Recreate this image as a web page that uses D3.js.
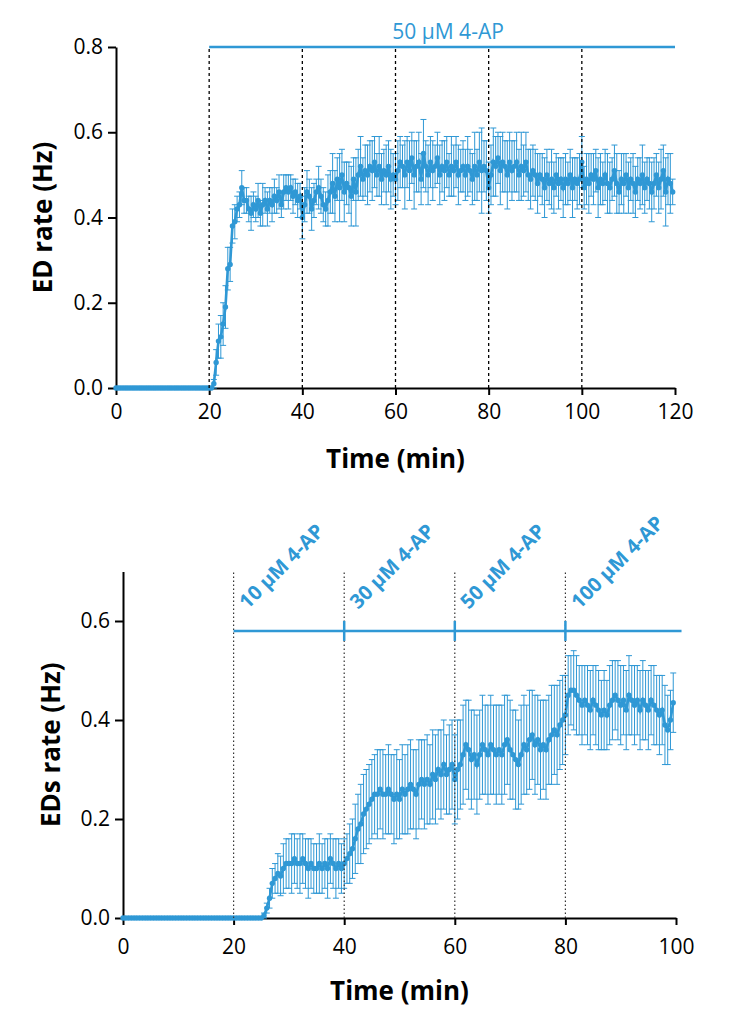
<!DOCTYPE html>
<html>
<head>
<meta charset="utf-8">
<script src="https://cdnjs.cloudflare.com/ajax/libs/d3/7.8.5/d3.min.js"></script>
<style>
  body { margin: 0; background: #fff; }
  svg { display: block; font-family: "Open Sans", sans-serif; }
  .axis path, .axis line { stroke: #000; stroke-width: 2; }
  .axis text { font-family: "Open Sans", sans-serif; font-size: 21px; fill: #000; }
  .title { font-weight: bold; font-size: 26px; }
</style>
</head>
<body>
<div id="vis"></div>
<script>
// both recordings are binned every 0.5 min
var sampleStep = 0.5;

// top panel: 50 uM 4-AP from 20 min, mean and SEM of ED rate (Hz)
var topMean = [
  0, 0, 0, 0, 0, 0, 0, 0, 0, 0,
  0, 0, 0, 0, 0, 0, 0, 0, 0, 0,
  0, 0, 0, 0, 0, 0, 0, 0, 0, 0,
  0, 0, 0, 0, 0, 0, 0, 0, 0, 0,
  0, 0, 0.01, 0.06, 0.11, 0.12, 0.15, 0.19, 0.28, 0.29,
  0.38, 0.39, 0.42, 0.43, 0.47, 0.44, 0.44, 0.42, 0.41, 0.43,
  0.42, 0.44, 0.41, 0.43, 0.44, 0.42, 0.44, 0.43, 0.45, 0.44,
  0.46, 0.43, 0.46, 0.47, 0.46, 0.47, 0.45, 0.46, 0.44, 0.45,
  0.40, 0.43, 0.46, 0.45, 0.42, 0.44, 0.46, 0.47, 0.45, 0.43,
  0.42, 0.44, 0.46, 0.48, 0.45, 0.49, 0.47, 0.50, 0.46, 0.48,
  0.47, 0.45, 0.49, 0.46, 0.50, 0.52, 0.49, 0.51, 0.50, 0.52,
  0.51, 0.53, 0.50, 0.52, 0.49, 0.51, 0.50, 0.52, 0.49, 0.50,
  0.49, 0.51, 0.53, 0.52, 0.50, 0.53, 0.51, 0.54, 0.50, 0.52,
  0.53, 0.49, 0.55, 0.52, 0.50, 0.53, 0.51, 0.52, 0.54, 0.50,
  0.52, 0.51, 0.53, 0.50, 0.52, 0.51, 0.53, 0.50, 0.51, 0.52,
  0.50, 0.52, 0.51, 0.49, 0.52, 0.50, 0.53, 0.51, 0.52, 0.51,
  0.47, 0.50, 0.53, 0.52, 0.54, 0.51, 0.53, 0.52, 0.50, 0.53,
  0.51, 0.52, 0.53, 0.50, 0.52, 0.51, 0.53, 0.50, 0.49, 0.51,
  0.50, 0.48, 0.50, 0.49, 0.47, 0.50, 0.48, 0.49, 0.47, 0.50,
  0.48, 0.49, 0.47, 0.49, 0.48, 0.50, 0.47, 0.49, 0.48, 0.49,
  0.53, 0.47, 0.49, 0.48, 0.50, 0.49, 0.51, 0.47, 0.49, 0.48,
  0.50, 0.48, 0.47, 0.49, 0.51, 0.48, 0.46, 0.49, 0.48, 0.50,
  0.47, 0.49, 0.48, 0.46, 0.49, 0.48, 0.50, 0.47, 0.49, 0.48,
  0.46, 0.48, 0.50, 0.47, 0.49, 0.51, 0.46, 0.49, 0.48, 0.46
];
var topSem = [
  0, 0, 0, 0, 0, 0, 0, 0, 0, 0,
  0, 0, 0, 0, 0, 0, 0, 0, 0, 0,
  0, 0, 0, 0, 0, 0, 0, 0, 0, 0,
  0, 0, 0, 0, 0, 0, 0, 0, 0, 0,
  0, 0, 0.01, 0.03, 0.04, 0.05, 0.05, 0.05, 0.05, 0.04,
  0.04, 0.04, 0.03, 0.03, 0.04, 0.03, 0.03, 0.03, 0.04, 0.03,
  0.03, 0.04, 0.03, 0.05, 0.03, 0.04, 0.03, 0.04, 0.04, 0.03,
  0.04, 0.03, 0.04, 0.03, 0.04, 0.03, 0.04, 0.03, 0.04, 0.03,
  0.05, 0.04, 0.05, 0.04, 0.05, 0.04, 0.03, 0.05, 0.04, 0.04,
  0.04, 0.06, 0.05, 0.07, 0.06, 0.05, 0.08, 0.06, 0.07, 0.05,
  0.06, 0.07, 0.05, 0.08, 0.06, 0.07, 0.05, 0.06, 0.07, 0.06,
  0.07, 0.06, 0.05, 0.07, 0.06, 0.05, 0.07, 0.06, 0.07, 0.05,
  0.06, 0.07, 0.06, 0.05, 0.08, 0.06, 0.07, 0.06, 0.08, 0.06,
  0.07, 0.06, 0.08, 0.06, 0.07, 0.06, 0.07, 0.05, 0.06, 0.07,
  0.06, 0.07, 0.06, 0.05, 0.07, 0.06, 0.06, 0.07, 0.05, 0.06,
  0.06, 0.07, 0.05, 0.06, 0.08, 0.06, 0.07, 0.10, 0.06, 0.07,
  0.06, 0.07, 0.08, 0.07, 0.06, 0.08, 0.07, 0.06, 0.08, 0.07,
  0.07, 0.06, 0.07, 0.06, 0.08, 0.06, 0.07, 0.06, 0.07, 0.06,
  0.06, 0.07, 0.05, 0.06, 0.07, 0.06, 0.05, 0.07, 0.06, 0.05,
  0.06, 0.05, 0.07, 0.06, 0.05, 0.06, 0.07, 0.05, 0.06, 0.06,
  0.06, 0.05, 0.06, 0.07, 0.05, 0.06, 0.05, 0.07, 0.06, 0.05,
  0.06, 0.07, 0.06, 0.05, 0.06, 0.07, 0.05, 0.06, 0.07, 0.05,
  0.06, 0.05, 0.07, 0.06, 0.05, 0.06, 0.07, 0.06, 0.05, 0.06,
  0.07, 0.06, 0.05, 0.06, 0.07, 0.06, 0.08, 0.06, 0.07, 0.03
];
var topTicksX = [0, 20, 40, 60, 80, 100, 120];
var topTicksY = [0, 0.2, 0.4, 0.6, 0.8];
var topMarks = [20, 40, 60, 80, 100];
var topDoseStarts = [20];
var topDoseLabels = ["50 μM 4-AP"];

// bottom panel: increasing 4-AP steps, mean and SEM of EDs rate (Hz)
var bottomMean = [
  0, 0, 0, 0, 0, 0, 0, 0, 0, 0,
  0, 0, 0, 0, 0, 0, 0, 0, 0, 0,
  0, 0, 0, 0, 0, 0, 0, 0, 0, 0,
  0, 0, 0, 0, 0, 0, 0, 0, 0, 0,
  0, 0, 0, 0, 0, 0, 0, 0, 0, 0,
  0, 0.005, 0.02, 0.04, 0.07, 0.08, 0.09, 0.085, 0.10, 0.11,
  0.11, 0.11, 0.12, 0.11, 0.11, 0.12, 0.11, 0.10, 0.11, 0.10,
  0.10, 0.11, 0.10, 0.11, 0.10, 0.12, 0.11, 0.10, 0.11, 0.10,
  0.11, 0.12, 0.13, 0.14, 0.16, 0.18, 0.19, 0.21, 0.22, 0.23,
  0.24, 0.25, 0.25, 0.26, 0.25, 0.25, 0.26, 0.25, 0.24, 0.25,
  0.24, 0.26, 0.25, 0.26, 0.27, 0.26, 0.25, 0.27, 0.28, 0.27,
  0.28, 0.27, 0.29, 0.28, 0.30, 0.29, 0.31, 0.29, 0.30, 0.31,
  0.28, 0.30, 0.31, 0.33, 0.35, 0.34, 0.32, 0.33, 0.31, 0.33,
  0.35, 0.34, 0.33, 0.35, 0.34, 0.33, 0.34, 0.33, 0.35, 0.36,
  0.34, 0.33, 0.32, 0.31, 0.33, 0.35, 0.34, 0.36, 0.37, 0.35,
  0.36, 0.34, 0.35, 0.34, 0.36, 0.37, 0.38, 0.37, 0.39, 0.40,
  0.41, 0.45, 0.46, 0.46, 0.45, 0.44, 0.43, 0.44, 0.43, 0.42,
  0.44, 0.43, 0.42, 0.41, 0.42, 0.41, 0.43, 0.44, 0.45, 0.44,
  0.43, 0.44, 0.42, 0.45, 0.44, 0.43, 0.44, 0.42, 0.44, 0.43,
  0.42, 0.44, 0.43, 0.42, 0.41, 0.42, 0.39, 0.38, 0.40, 0.435
];
var bottomSem = [
  0, 0, 0, 0, 0, 0, 0, 0, 0, 0,
  0, 0, 0, 0, 0, 0, 0, 0, 0, 0,
  0, 0, 0, 0, 0, 0, 0, 0, 0, 0,
  0, 0, 0, 0, 0, 0, 0, 0, 0, 0,
  0, 0, 0, 0, 0, 0, 0, 0, 0, 0,
  0, 0.005, 0.01, 0.02, 0.03, 0.03, 0.04, 0.04, 0.05, 0.05,
  0.05, 0.06, 0.05, 0.05, 0.06, 0.05, 0.05, 0.06, 0.05, 0.05,
  0.05, 0.06, 0.05, 0.05, 0.06, 0.05, 0.05, 0.06, 0.05, 0.05,
  0.05, 0.05, 0.06, 0.06, 0.07, 0.07, 0.08, 0.08, 0.08, 0.08,
  0.08, 0.08, 0.09, 0.08, 0.09, 0.08, 0.09, 0.08, 0.09, 0.09,
  0.08, 0.09, 0.08, 0.09, 0.09, 0.08, 0.09, 0.09, 0.08, 0.09,
  0.09, 0.08, 0.09, 0.09, 0.08, 0.09, 0.09, 0.08, 0.09, 0.09,
  0.09, 0.10, 0.09, 0.10, 0.09, 0.10, 0.10, 0.09, 0.10, 0.09,
  0.10, 0.09, 0.10, 0.10, 0.09, 0.10, 0.09, 0.10, 0.10, 0.09,
  0.10, 0.09, 0.10, 0.09, 0.10, 0.10, 0.09, 0.10, 0.09, 0.10,
  0.09, 0.10, 0.09, 0.10, 0.09, 0.10, 0.09, 0.10, 0.09, 0.09,
  0.08, 0.08, 0.07, 0.08, 0.08, 0.07, 0.08, 0.07, 0.08, 0.08,
  0.07, 0.08, 0.08, 0.07, 0.08, 0.07, 0.08, 0.08, 0.07, 0.08,
  0.08, 0.07, 0.08, 0.08, 0.07, 0.08, 0.07, 0.08, 0.08, 0.07,
  0.08, 0.07, 0.08, 0.07, 0.08, 0.07, 0.08, 0.07, 0.06, 0.06
];
var bottomTicksX = [0, 20, 40, 60, 80, 100];
var bottomTicksY = [0, 0.2, 0.4, 0.6];
var bottomMarks = [20, 40, 60, 80];
var bottomDoseStarts = [20, 40, 60, 80];
var bottomDoseLabels = ["10 μM 4-AP", "30 μM 4-AP", "50 μM 4-AP", "100 μM 4-AP"];

var blue = "#2f98d5";

var svg = d3.select("#vis")
  .append("svg")
  .attr("width", 748)
  .attr("height", 1024);

function drawPanel(p) {
  var x = d3.scaleLinear().domain(p.xDomain).range(p.xRange),
      y = d3.scaleLinear().domain(p.yDomain).range(p.yRange);

  var points = p.mean.map(function(m, i) {
    return {t: i * sampleStep, m: m, s: p.sem[i]};
  });

  var g = svg.append("g");

  // axes
  g.append("g")
    .attr("class", "axis")
    .attr("transform", "translate(0," + p.yRange[0] + ")")
    .call(d3.axisBottom(x).tickValues(p.xTicks).tickSize(7).tickPadding(p.xPad).tickSizeOuter(0));

  g.append("g")
    .attr("class", "axis")
    .attr("transform", "translate(" + p.xRange[0] + ",0)")
    .call(d3.axisLeft(y).tickValues(p.yTicks).tickFormat(d3.format(".1f")).tickSize(8).tickPadding(5).tickSizeOuter(0));

  // error bars
  var bars = g.append("g")
    .attr("stroke", blue)
    .attr("stroke-width", 1);

  points.filter(function(d) { return d.s > 0; }).forEach(function(d) {
    var px = x(d.t);
    bars.append("line")
      .attr("x1", px).attr("x2", px)
      .attr("y1", y(d.m - d.s)).attr("y2", y(d.m + d.s));
    [d.m - d.s, d.m + d.s].forEach(function(v) {
      bars.append("line")
        .attr("x1", px - 3).attr("x2", px + 3)
        .attr("y1", y(v)).attr("y2", y(v));
    });
  });

  // mean trace
  g.append("path")
    .datum(points)
    .attr("fill", "none")
    .attr("stroke", blue)
    .attr("stroke-width", 2.6)
    .attr("d", d3.line().x(function(d) { return x(d.t); }).y(function(d) { return y(d.m); }));

  g.selectAll(".dot")
    .data(points)
    .enter().append("circle")
    .attr("cx", function(d) { return x(d.t); })
    .attr("cy", function(d) { return y(d.m); })
    .attr("r", 2.7)
    .attr("fill", blue);

  // time marks
  g.selectAll(".mark")
    .data(p.marks)
    .enter().append("line")
    .attr("x1", function(d) { return x(d); })
    .attr("x2", function(d) { return x(d); })
    .attr("y1", y(0))
    .attr("y2", y(p.yDomain[1]))
    .attr("stroke", p.markColor)
    .attr("stroke-width", p.markWidth)
    .attr("stroke-dasharray", p.markDash);

  // drug application bar
  g.append("line")
    .attr("x1", x(p.doseStarts[0]))
    .attr("x2", x(p.doseEnd))
    .attr("y1", y(p.doseLevel))
    .attr("y2", y(p.doseLevel))
    .attr("stroke", blue)
    .attr("stroke-width", 2.5);

  g.selectAll(".doseTick")
    .data(p.doseStarts.slice(1))
    .enter().append("line")
    .attr("x1", function(d) { return x(d); })
    .attr("x2", function(d) { return x(d); })
    .attr("y1", y(p.doseLevel) - 10)
    .attr("y2", y(p.doseLevel) + 10)
    .attr("stroke", blue)
    .attr("stroke-width", 2.5);

  if (p.rotateLabels) {
    g.selectAll(".doseLabel")
      .data(p.doseStarts)
      .enter().append("text")
      .attr("transform", function(d) {
        return "translate(" + (x(d) + 14) + "," + (y(p.doseLevel) - 21) + ") rotate(-45)";
      })
      .attr("fill", blue)
      .attr("font-weight", "bold")
      .attr("font-size", "20px")
      .text(function(d, i) { return p.doseLabels[i]; });
  } else {
    g.append("text")
      .attr("x", (x(p.doseStarts[0]) + x(p.doseEnd)) / 2 + 6)
      .attr("y", y(p.doseLevel) - 8)
      .attr("text-anchor", "middle")
      .attr("fill", blue)
      .attr("font-size", "21px")
      .text(p.doseLabels[0]);
  }

  // axis titles
  g.append("text")
    .attr("class", "title")
    .attr("x", (p.xRange[0] + p.xRange[1]) / 2)
    .attr("y", p.xTitleY)
    .attr("text-anchor", "middle")
    .text("Time (min)");

  g.append("text")
    .attr("class", "title")
    .attr("transform", "translate(" + p.yTitleX + "," + (p.yRange[0] + p.yRange[1]) / 2 + ") rotate(-90)")
    .attr("text-anchor", "middle")
    .text(p.yTitle);
}

drawPanel({
  mean: topMean, sem: topSem,
  xDomain: [0, 120], xRange: [116, 675],
  yDomain: [0, 0.8], yRange: [388, 47],
  xTicks: topTicksX, yTicks: topTicksY, xPad: 9,
  marks: topMarks, markColor: "#000", markWidth: 1.3, markDash: "3,3",
  doseStarts: topDoseStarts, doseEnd: 120, doseLevel: 0.8, doseLabels: topDoseLabels,
  rotateLabels: false,
  yTitle: "ED rate (Hz)", yTitleX: 52, xTitleY: 468
});

drawPanel({
  mean: bottomMean, sem: bottomSem,
  xDomain: [0, 100], xRange: [123, 676],
  yDomain: [0, 0.7], yRange: [918, 571.5],
  xTicks: bottomTicksX, yTicks: bottomTicksY, xPad: 14,
  marks: bottomMarks, markColor: "#333", markWidth: 1.2, markDash: "1.5,2.5",
  doseStarts: bottomDoseStarts, doseEnd: 101, doseLevel: 0.58, doseLabels: bottomDoseLabels,
  rotateLabels: true,
  yTitle: "EDs rate (Hz)", yTitleX: 60, xTitleY: 1000
});
</script>
</body>
</html>
